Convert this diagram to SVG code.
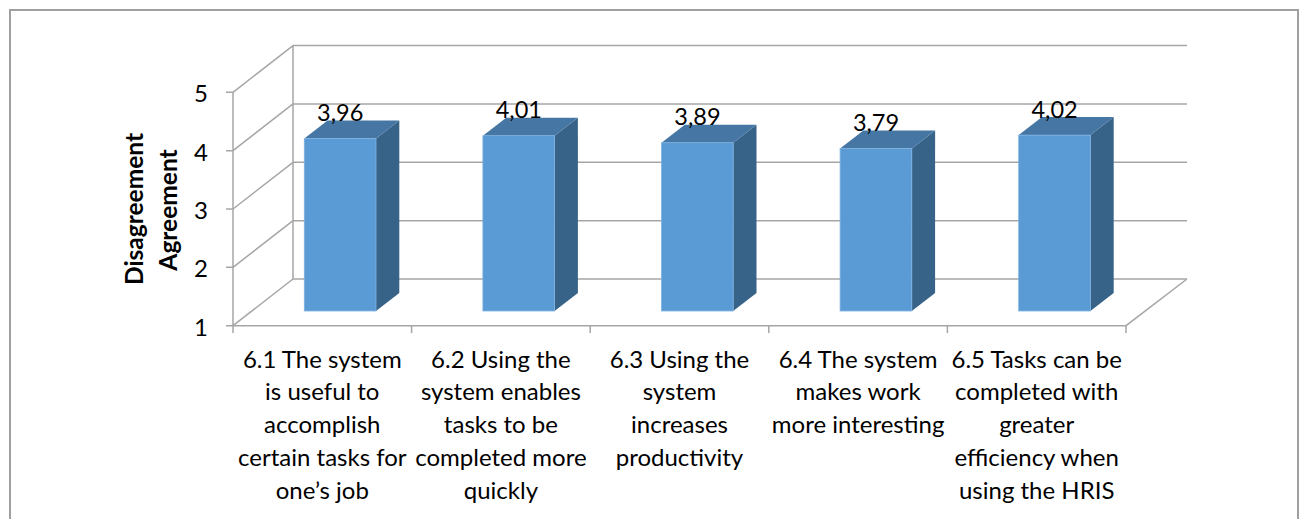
<svg xmlns="http://www.w3.org/2000/svg" width="1304" height="519" viewBox="0 0 1304 519">
<style>
.grid{stroke:#A6A6A6;stroke-width:1.5;fill:none}
.frame{stroke:#A0A0A0;stroke-width:2;fill:#FFFFFF}
.front{fill:#5B9BD5;stroke:#7FB1E0;stroke-width:0.8}
.top{fill:#4576A4}
.side{fill:#386389}
.tick{font-family:Lato,"Liberation Sans",sans-serif;font-size:24px;fill:#000;text-anchor:end}
.val{font-family:Lato,"Liberation Sans",sans-serif;font-size:23.5px;fill:#000;text-anchor:middle}
.cat{font-family:Lato,"Liberation Sans",sans-serif;font-size:24px;fill:#000;text-anchor:middle}
.title{font-family:Lato,"Liberation Sans",sans-serif;font-size:24.5px;font-weight:bold;fill:#000;text-anchor:middle}
</style>
<rect width="1304" height="519" fill="#FFFFFF"/>
<rect class="frame" x="10" y="10" width="1288" height="520"/>
<g id="walls">
<path class="grid" d="M293,45.6 H1187 M293,103.95 H1187 M293,162.3 H1187 M293,220.65 H1187 M293,279 H1187"/>
<path class="grid" d="M293,45.6 V279"/>
<path class="grid" d="M233,92.3 L293,45.6 M233,150.65 L293,103.95 M233,209 L293,162.3 M233,267.35 L293,220.65 M233,325.7 L293,279"/>
<path class="grid" d="M233,325.7 H1126 L1187,279"/>
</g>
<g id="axes">
<path class="grid" d="M233,92.3 V325.7"/>
<path class="grid" d="M226,92.3 H233 M226,150.65 H233 M226,209 H233 M226,267.35 H233 M226,325.7 H233"/>
<path class="grid" d="M233,325.7 V333 M411.6,325.7 V333 M590.2,325.7 V333 M768.8,325.7 V333 M947.4,325.7 V333 M1126,325.7 V333"/>
<text class="tick" x="208" y="102.3">5</text>
<text class="tick" x="208" y="160.65">4</text>
<text class="tick" x="208" y="219">3</text>
<text class="tick" x="208" y="277.35">2</text>
<text class="tick" x="208" y="335.7">1</text>
</g>
<g id="axis-title">
<text class="title" transform="translate(143,209) rotate(-90)">Disagreement</text>
<text class="title" transform="translate(177,210) rotate(-90)">Agreement</text>
</g>
<g id="bar1">
<polygon class="side" points="376,138.6 399.3,120.6 399.3,293 376,311"/>
<polygon class="top" points="304.3,138.6 327.6,120.6 399.3,120.6 376,138.6"/>
<rect class="front" x="304.3" y="138.6" width="71.7" height="172.4"/>
<text class="val" x="340.2" y="121">3,96</text>
</g>
<g id="bar2">
<polygon class="side" points="554.6,135.7 577.9,117.7 577.9,293 554.6,311"/>
<polygon class="top" points="482.9,135.7 506.2,117.7 577.9,117.7 554.6,135.7"/>
<rect class="front" x="482.9" y="135.7" width="71.7" height="175.3"/>
<text class="val" x="518.8" y="118">4,01</text>
</g>
<g id="bar3">
<polygon class="side" points="733.2,142.7 756.5,124.7 756.5,293 733.2,311"/>
<polygon class="top" points="661.5,142.7 684.8,124.7 756.5,124.7 733.2,142.7"/>
<rect class="front" x="661.5" y="142.7" width="71.7" height="168.3"/>
<text class="val" x="697.4" y="125">3,89</text>
</g>
<g id="bar4">
<polygon class="side" points="911.8,148.5 935.1,130.5 935.1,293 911.8,311"/>
<polygon class="top" points="840.1,148.5 863.4,130.5 935.1,130.5 911.8,148.5"/>
<rect class="front" x="840.1" y="148.5" width="71.7" height="162.5"/>
<text class="val" x="876" y="131">3,79</text>
</g>
<g id="bar5">
<polygon class="side" points="1090.4,135.1 1113.7,117.1 1113.7,293 1090.4,311"/>
<polygon class="top" points="1018.7,135.1 1042,117.1 1113.7,117.1 1090.4,135.1"/>
<rect class="front" x="1018.7" y="135.1" width="71.7" height="175.9"/>
<text class="val" x="1054.6" y="117.5">4,02</text>
</g>
<g id="cat1">
<text class="cat" x="322.3" y="367.7">6.1 The system</text>
<text class="cat" x="322.3" y="400.4">is useful to</text>
<text class="cat" x="322.3" y="433.1">accomplish</text>
<text class="cat" x="322.3" y="465.8">certain tasks for</text>
<text class="cat" x="322.3" y="498.5">one’s job</text>
</g>
<g id="cat2">
<text class="cat" x="500.9" y="367.7">6.2 Using the</text>
<text class="cat" x="500.9" y="400.4">system enables</text>
<text class="cat" x="500.9" y="433.1">tasks to be</text>
<text class="cat" x="500.9" y="465.8">completed more</text>
<text class="cat" x="500.9" y="498.5">quickly</text>
</g>
<g id="cat3">
<text class="cat" x="679.5" y="367.7">6.3 Using the</text>
<text class="cat" x="679.5" y="400.4">system</text>
<text class="cat" x="679.5" y="433.1">increases</text>
<text class="cat" x="679.5" y="465.8">productivity</text>
</g>
<g id="cat4">
<text class="cat" x="858.1" y="367.7">6.4 The system</text>
<text class="cat" x="858.1" y="400.4">makes work</text>
<text class="cat" x="858.1" y="433.1">more interesting</text>
</g>
<g id="cat5">
<text class="cat" x="1036.7" y="367.7">6.5 Tasks can be</text>
<text class="cat" x="1036.7" y="400.4">completed with</text>
<text class="cat" x="1036.7" y="433.1">greater</text>
<text class="cat" x="1036.7" y="465.8">efficiency when</text>
<text class="cat" x="1036.7" y="498.5">using the HRIS</text>
</g>
</svg>
